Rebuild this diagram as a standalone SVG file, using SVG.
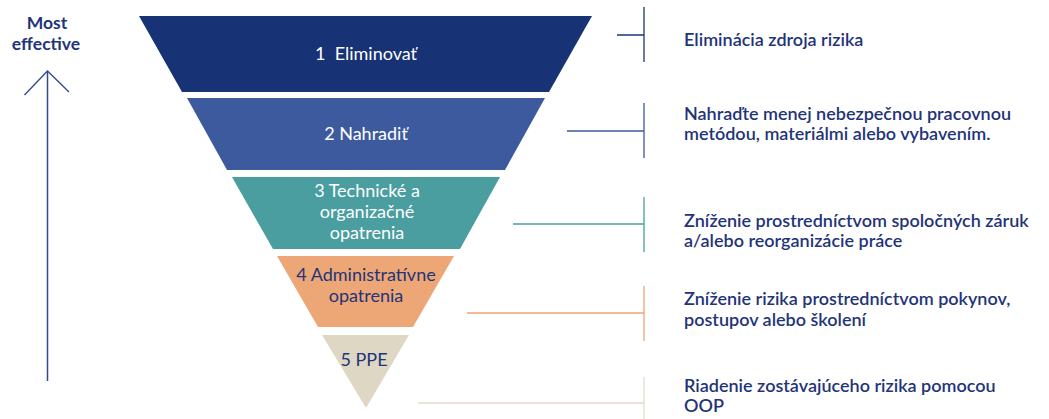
<svg xmlns="http://www.w3.org/2000/svg" width="1049" height="419" viewBox="0 0 1049 419">
<style>
text{font-family:"Lato","Liberation Sans",sans-serif;}
.lbl{font-size:18px;fill:#ffffff;text-anchor:middle;}
.lbld{font-size:18px;fill:#1f3479;text-anchor:middle;}
.desc{font-size:18px;fill:#1f3479;font-weight:600;}
.hd{font-size:17.5px;fill:#1f3479;font-weight:700;text-anchor:middle;}
.c{fill:none;stroke-width:1.3;}
</style>
<rect width="1049" height="419" fill="#ffffff"/>
<g id="arrow">
<line x1="47.5" y1="72" x2="47.5" y2="381" stroke="#2f4a8f" stroke-width="1.5"/>
<polyline points="24.5,95 47.5,71 69,92" fill="none" stroke="#2f4a8f" stroke-width="1.3"/>
<text class="hd" x="47" y="29">Most</text>
<text class="hd" x="46" y="50">effective</text>
</g>
<g id="connectors">
<path class="c" stroke="#1c3678" d="M617,35H644M644,7V62"/>
<path class="c" stroke="#3d5a9f" d="M567,131H644M644,103V158"/>
<path class="c" stroke="#4a9ea0" d="M513,224H644M644,197V252"/>
<path class="c" stroke="#eda776" d="M467,313H644M644,286V341"/>
<path class="c" stroke="#e3dccb" d="M418,403H644M644,377V419"/>
</g>
<g id="level1">
<polygon points="139,16 592,16 549,92 182,92" fill="#173275"/>
<text class="lbl" x="366" y="60">1&#160; Eliminovať</text>
</g>
<g id="level2">
<polygon points="187,98 545,98 505,170 227,170" fill="#3d5a9f"/>
<text class="lbl" x="366" y="140">2 Nahradiť</text>
</g>
<g id="level3">
<polygon points="232,177 500,177 460,249 273,249" fill="#4a9ea0"/>
<text class="lbl" x="367" y="197">3 Technické a</text>
<text class="lbl" x="367" y="218">organizačné</text>
<text class="lbl" x="367" y="239">opatrenia</text>
</g>
<g id="level4">
<polygon points="277,256 454,256 413,327 318,327" fill="#eda776"/>
<text class="lbld" x="366" y="281">4 Administratívne</text>
<text class="lbld" x="366" y="302">opatrenia</text>
</g>
<g id="level5">
<polygon points="322,335 409,335 366,408" fill="#ddd7c3"/>
<text class="lbld" x="364" y="366">5 PPE</text>
</g>
<g id="desc1"><text class="desc" x="684" y="46">Eliminácia zdroja rizika</text></g>
<g id="desc2"><text class="desc" x="684" y="120">Nahraďte menej nebezpečnou pracovnou</text><text class="desc" x="684" y="140">metódou, materiálmi alebo vybavením.</text></g>
<g id="desc3"><text class="desc" x="684" y="227">Zníženie prostredníctvom spoločných záruk</text><text class="desc" x="684" y="247">a/alebo reorganizácie práce</text></g>
<g id="desc4"><text class="desc" x="684" y="305">Zníženie rizika prostredníctvom pokynov,</text><text class="desc" x="684" y="326">postupov alebo školení</text></g>
<g id="desc5"><text class="desc" x="684" y="392">Riadenie zostávajúceho rizika pomocou</text><text class="desc" x="684" y="412">OOP</text></g>
</svg>
